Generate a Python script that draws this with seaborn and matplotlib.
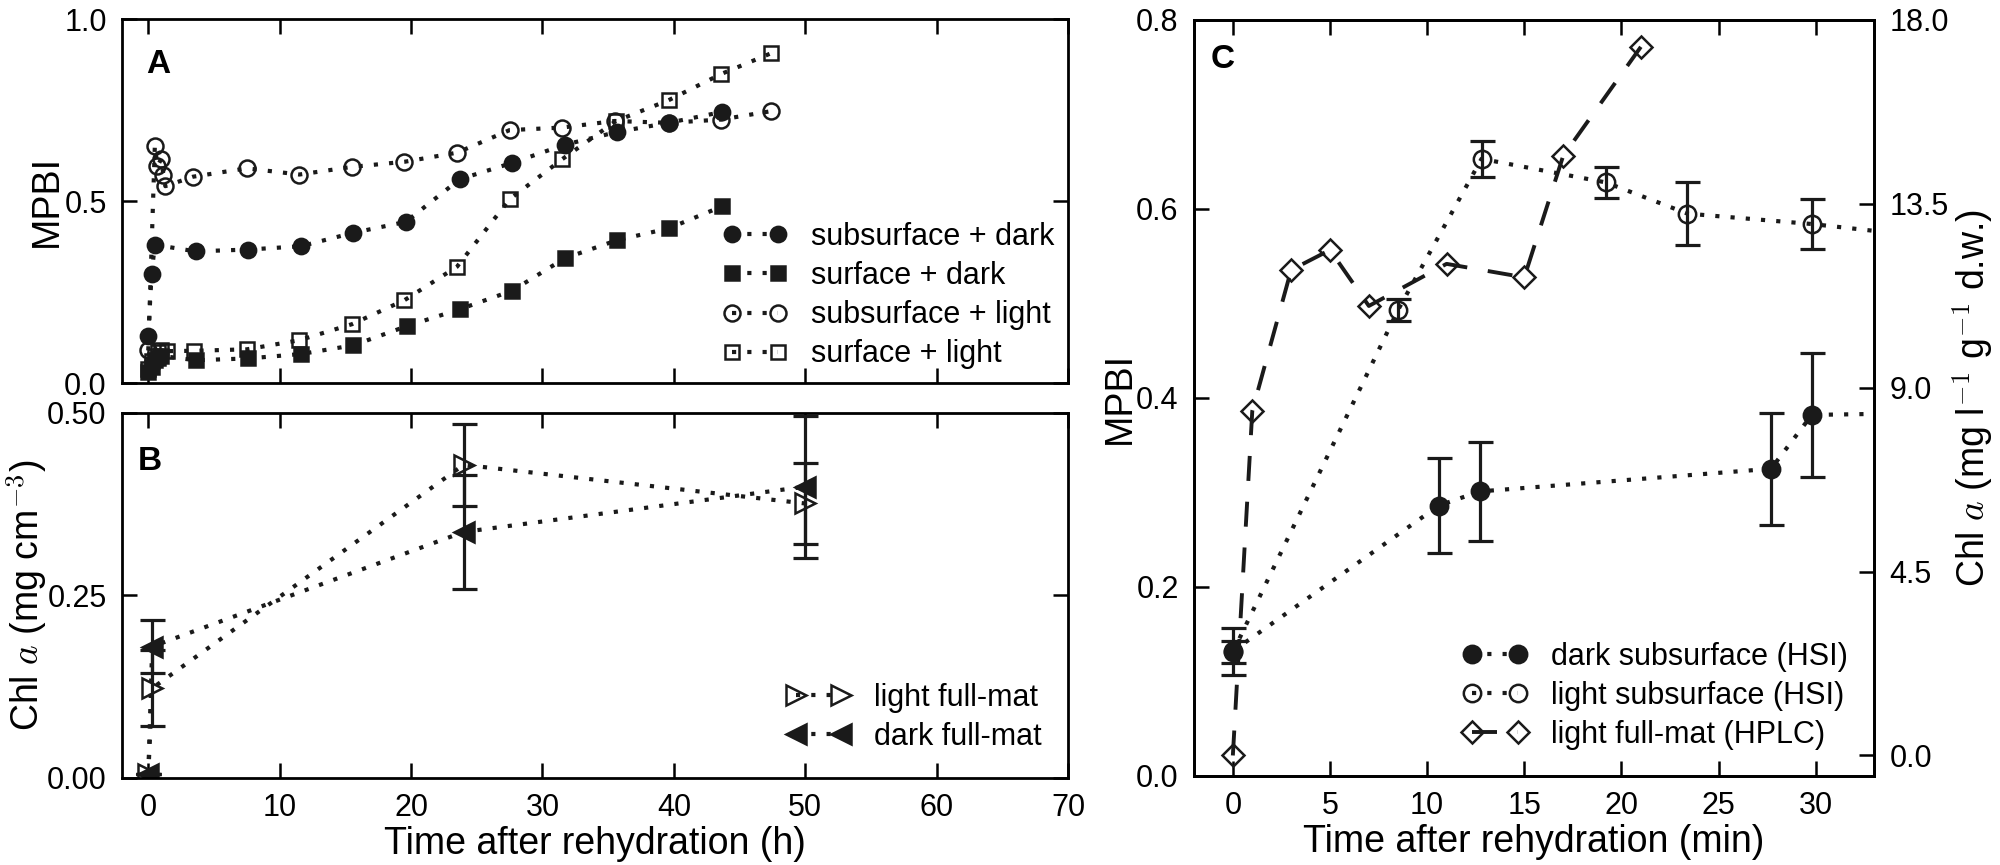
import matplotlib
matplotlib.use("Agg")
import matplotlib.pyplot as plt
import seaborn as sns

# Panel A: MPBI over hours after rehydration
hours_sub_dark = [0, 0.25, 0.5, 3.6, 7.6, 11.6, 15.6, 19.6, 23.7, 27.7, 31.7, 35.7, 39.6, 43.7]
mpbi_sub_dark = [0.13, 0.30, 0.38, 0.362, 0.367, 0.376, 0.413, 0.443, 0.56, 0.605, 0.655, 0.69, 0.715, 0.745]

hours_surf_dark = [0, 0.25, 0.5, 0.75, 1.0, 3.6, 7.6, 11.6, 15.6, 19.7, 23.7, 27.7, 31.7, 35.7, 39.6, 43.7]
mpbi_surf_dark = [0.03, 0.045, 0.063, 0.07, 0.075, 0.063, 0.068, 0.08, 0.104, 0.157, 0.203, 0.254,
                  0.343, 0.393, 0.425, 0.486]

hours_sub_light = [0, 0.5, 0.7, 1.0, 1.15, 1.3, 3.4, 7.5, 11.5, 15.5, 19.5, 23.5, 27.5, 31.5, 35.5,
                   39.6, 43.6, 47.4]
mpbi_sub_light = [0.09, 0.652, 0.596, 0.617, 0.571, 0.541, 0.567, 0.59, 0.573, 0.594, 0.608, 0.633,
                  0.695, 0.702, 0.72, 0.715, 0.724, 0.747]

hours_surf_light = [0, 0.25, 0.5, 0.75, 1.0, 1.4, 3.5, 7.5, 11.5, 15.5, 19.5, 23.5, 27.5, 31.5, 35.6,
                    39.6, 43.6, 47.4]
mpbi_surf_light = [0.04, 0.06, 0.075, 0.085, 0.09, 0.088, 0.089, 0.093, 0.118, 0.162, 0.228, 0.32,
                   0.505, 0.615, 0.72, 0.777, 0.849, 0.906]

# Panel B: Chl a of full mats
hours_b = [0, 0.3, 24, 50]
chl_light = [0.005, 0.123, 0.429, 0.376]
chl_light_err = [0, 0.052, 0.056, 0.056]
chl_dark = [0.005, 0.18, 0.337, 0.399]
chl_dark_err = [0, 0.036, 0.078, 0.097]

# Panel C: minutes after rehydration (last HSI points lie past the axis edge)
min_dark = [0, 10.6, 12.7, 27.7, 29.8, 36]
mpbi_dark = [0.132, 0.286, 0.301, 0.325, 0.382, 0.384]
mpbi_dark_err = [0.025, 0.05, 0.052, 0.059, 0.066, 0.06]
min_light = [0, 8.5, 12.8, 19.2, 23.4, 29.8, 36]
mpbi_light = [0.131, 0.493, 0.653, 0.628, 0.595, 0.584, 0.570]
mpbi_light_err = [0.012, 0.012, 0.019, 0.016, 0.033, 0.026, 0.02]
min_hplc = [0, 1, 3, 5, 7, 11, 15, 17, 21]
chl_hplc = [0.0, 8.43, 11.88, 12.37, 11.0, 12.03, 11.7, 14.67, 17.34]

sns.set_theme(style="ticks")
plt.rcParams.update({
    "font.family": ["Liberation Sans", "DejaVu Sans"],
    "mathtext.fontset": "cm",
    "text.color": "black",
    "axes.labelcolor": "black",
    "axes.linewidth": 2.0,
    "axes.edgecolor": "black",
    "xtick.direction": "in", "ytick.direction": "in",
    "xtick.top": True, "ytick.right": True,
    "xtick.major.size": 11, "ytick.major.size": 11,
    "xtick.major.width": 1.8, "ytick.major.width": 1.8,
    "xtick.major.pad": 11, "ytick.major.pad": 11,
    "xtick.labelsize": 22, "ytick.labelsize": 22,
    "xtick.color": "black", "ytick.color": "black",
    "axes.labelsize": 27,
    "lines.scale_dashes": False,
    "legend.fontsize": 22,
})

DOT = (0, (3, 8))
DASH = (0, (18, 15))
LEG = dict(loc="lower right", frameon=False, numpoints=2, handlelength=2.1,
           handletextpad=0.78, labelspacing=0.3)


def trace(ax, x, y, marker, filled, label, ms=11, ls=DOT, lw=3):
    sns.lineplot(x=x, y=y, ax=ax, estimator=None, sort=False, color="k", legend=False,
                 marker=marker, markersize=ms,
                 markerfacecolor="k" if filled else "none",
                 markeredgecolor="k", markeredgewidth=1.8,
                 linestyle=ls, linewidth=lw)
    line = ax.lines[-1]
    line.set_label(label)
    return line


def bars(ax, x, y, err):
    ax.errorbar(x, y, yerr=err, fmt="none", ecolor="k", elinewidth=2.3,
                capsize=9, capthick=2.3, zorder=1)


fig = plt.figure(figsize=(20, 8.65), dpi=100)
ax_a = fig.add_axes([0.061, 0.557, 0.473, 0.421])
ax_b = fig.add_axes([0.061, 0.1006, 0.473, 0.422], sharex=ax_a)
ax_c = fig.add_axes([0.597, 0.103, 0.34, 0.874])
ax_c2 = ax_c.twinx()

# A
h1 = trace(ax_a, hours_sub_dark, mpbi_sub_dark, "o", True, "subsurface + dark")
h2 = trace(ax_a, hours_surf_dark, mpbi_surf_dark, "s", True, "surface + dark", ms=10.5)
h3 = trace(ax_a, hours_sub_light, mpbi_sub_light, "o", False, "subsurface + light", ms=11.5)
h4 = trace(ax_a, hours_surf_light, mpbi_surf_light, "s", False, "surface + light", ms=10.5)
ax_a.set_xlim(-2, 70)
ax_a.set_ylim(0, 1.0)
ax_a.set_yticks([0, 0.5, 1.0])
ax_a.set_xticks(range(0, 71, 10))
ax_a.tick_params(labelbottom=False)
ax_a.set_ylabel("MPBI")
ax_a.set_xlabel("")
ax_a.yaxis.set_label_coords(-0.060, 0.5)
ax_a.legend(handles=[h1, h2, h3, h4], borderaxespad=0.05, **LEG)
ax_a.text(0.026, 0.875, "A", transform=ax_a.transAxes, fontsize=24, fontweight="bold",
          ha="left", va="center")

# B
bars(ax_b, hours_b, chl_light, chl_light_err)
bars(ax_b, hours_b, chl_dark, chl_dark_err)
b1 = trace(ax_b, hours_b, chl_light, ">", False, "light full-mat", ms=15)
b2 = trace(ax_b, hours_b, chl_dark, "<", True, "dark full-mat", ms=15)
ax_b.set_ylim(0, 0.5)
ax_b.set_yticks([0, 0.25, 0.5])
ax_b.set_ylabel(r"Chl $a$ (mg cm$^{-3}$)")
ax_b.set_xlabel("Time after rehydration (h)", labelpad=2)
ax_b.yaxis.set_label_coords(-0.077, 0.5)
ax_b.legend(handles=[b1, b2], borderaxespad=0.45, **LEG)
ax_b.text(0.017, 0.866, "B", transform=ax_b.transAxes, fontsize=24, fontweight="bold",
          ha="left", va="center")

# C
bars(ax_c, min_dark, mpbi_dark, mpbi_dark_err)
bars(ax_c, min_light, mpbi_light, mpbi_light_err)
c1 = trace(ax_c, min_dark, mpbi_dark, "o", True, "dark subsurface (HSI)", ms=12.5)
c2 = trace(ax_c, min_light, mpbi_light, "o", False, "light subsurface (HSI)", ms=12.5)
c3 = trace(ax_c2, min_hplc, chl_hplc, "D", False, "light full-mat (HPLC)", ms=11, ls=DASH, lw=2.8)
ax_c.set_xlim(-2, 33)
ax_c.set_ylim(0, 0.8)
ax_c.set_xticks(range(0, 31, 5))
ax_c.set_yticks([0, 0.2, 0.4, 0.6, 0.8])
ax_c.tick_params(right=False)
ax_c2.set_ylim(-0.5, 18)
ax_c2.set_yticks([0, 4.5, 9, 13.5, 18])
ax_c2.tick_params(left=False)
ax_c.set_ylabel("MPBI")
ax_c.set_xlabel("Time after rehydration (min)", labelpad=2)
ax_c.yaxis.set_label_coords(-0.082, 0.5)
ax_c2.set_ylabel(r"Chl $a$ (mg l$^{-1}$ g$^{-1}$ d.w.)")
ax_c2.yaxis.set_label_coords(1.112, 0.5)
ax_c2.legend(handles=[c1, c2, c3], borderaxespad=0.45, **LEG)
ax_c.text(0.024, 0.947, "C", transform=ax_c.transAxes, fontsize=24, fontweight="bold",
          ha="left", va="center")

fig.savefig("out.png", dpi=100)
